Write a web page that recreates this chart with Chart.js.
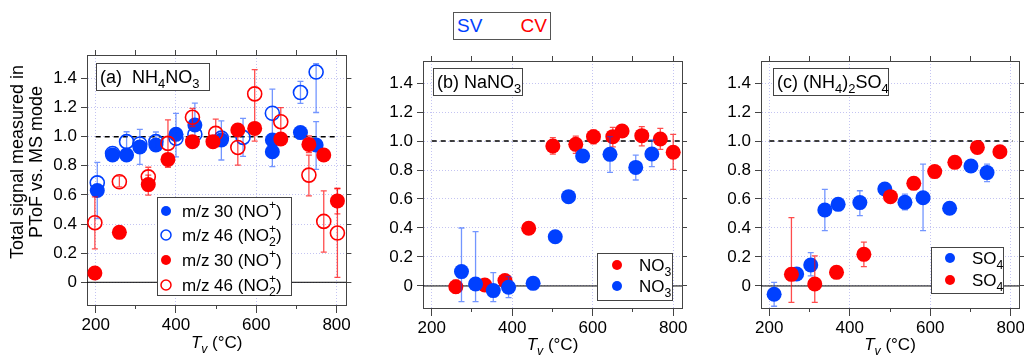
<!DOCTYPE html>
<html>
<head>
<meta charset="utf-8">
<script src="https://cdn.jsdelivr.net/npm/chart.js@4.4.0/dist/chart.umd.min.js"></script>
<style>
html, body { margin: 0; padding: 0; background: #fff; overflow: hidden; }
body { width: 1024px; height: 355px; position: relative; font-family: "Liberation Sans", Arial, sans-serif; }
canvas { position: absolute; top: 0; }
#svcv { position: absolute; left: 453px; top: 12px; width: 96px; height: 26px; border: 1px solid #555; font-size: 19px; line-height: 26px; }
#svcv .sv { position: absolute; left: 3px; color: #0040ff; }
#svcv .cv { position: absolute; right: 3px; color: #ff0000; }
</style>
</head>
<body>
<div id="svcv"><span class="sv">SV</span><span class="cv">CV</span></div>
<canvas id="pa" width="355" height="355" style="left:0px"></canvas>
<canvas id="pb" width="340" height="355" style="left:355px"></canvas>
<canvas id="pc" width="340" height="355" style="left:695px"></canvas>
<script>
// axis ticks
const xTicks = [200, 300, 400, 500, 600, 700, 800];
const xTickLabels = ['200', '', '400', '', '600', '', '800'];
const yTicks = [0, 0.2, 0.4, 0.6, 0.8, 1.0, 1.2, 1.4];
const yTickLabels = ['0', '0.2', '0.4', '0.6', '0.8', '1.0', '1.2', '1.4'];

// (a) NH4NO3 - SV m/z 30
const aSv30T  = [204, 242, 277, 310, 350, 400, 447, 513, 640, 640, 710, 749];
const aSv30V  = [0.63, 0.874, 0.874, 0.93, 0.943, 1.016, 1.08, 0.977, 0.977, 0.897, 1.028, 0.943];
const aSv30Lo = [0.437, null, null, 0.81, null, null, 0.93, 0.84, null, 0.794, null, 0.775];
const aSv30Hi = [0.823, null, null, 1.05, null, null, 1.23, 1.108, null, 1.0, null, 1.103];
// (a) SV m/z 46
const aSv46T  = [204, 242, 277, 310, 350, 400, 447, 513, 567, 640, 710, 749];
const aSv46V  = [0.683, 0.885, 0.966, 0.95, 0.966, 0.989, 1.016, 0.99, 0.995, 1.161, 1.303, 1.444];
const aSv46Lo = [null, null, 0.9, null, 0.9, 0.862, null, null, 0.865, 0.996, 1.229, 1.166];
const aSv46Hi = [null, null, 1.034, null, 1.032, 1.16, null, null, 1.126, 1.326, 1.38, 1.501];
// (a) CV m/z 30
const aCv30T  = [198, 259, 331, 380, 441, 492, 554, 596, 661, 731, 768, 802];
const aCv30V  = [0.064, 0.343, 0.671, 0.844, 0.966, 0.966, 1.046, 1.057, 0.984, 0.947, 0.874, 0.559];
const aCv30Lo = [null, null, 0.598, null, null, null, null, null, null, 0.89, null, 0.47];
const aCv30Hi = [null, null, 0.736, null, null, null, null, null, null, 1.005, null, 0.644];
// (a) CV m/z 46
const aCv46T  = [198, 259, 331, 380, 441, 499, 554, 596, 661, 731, 768, 802];
const aCv46V  = [0.409, 0.69, 0.724, 0.954, 1.133, 1.023, 0.926, 1.294, 1.103, 0.736, 0.418, 0.338];
const aCv46Lo = [0.23, 0.655, 0.66, 0.79, 1.07, 0.93, 0.805, 0.97, 1.0, 0.593, 0.207, 0.034];
const aCv46Hi = [0.586, 0.729, 0.79, 1.115, 1.195, 1.12, 1.046, 1.46, 1.2, 0.874, 0.628, 0.644];

// (b) NaNO3
const bCvT  = [260, 332, 382, 441, 501, 558, 602, 650, 673, 722, 768, 800];
const bCvV  = [-0.005, 0.007, 0.037, 0.398, 0.966, 0.977, 1.03, 1.03, 1.069, 1.037, 1.014, 0.922];
const bCvLo = [-0.05, null, 0.0, null, 0.91, 0.915, 0.98, 0.96, null, 0.966, 0.943, 0.805];
const bCvHi = [0.04, null, 0.07, null, 1.023, 1.034, 1.076, 1.094, null, 1.099, 1.087, 1.046];
const bSvT  = [274, 309, 353, 391, 452, 507, 540, 575, 643, 707, 747];
const bSvV  = [0.099, 0.014, -0.032, -0.009, 0.018, 0.34, 0.616, 0.897, 0.908, 0.818, 0.91];
const bSvLo = [-0.108, -0.108, -0.108, -0.08, null, null, null, null, 0.784, 0.731, 0.823];
const bSvHi = [0.40, 0.375, 0.092, 0.064, null, null, null, null, 1.03, 0.903, 1.007];

// (c) (NH4)2SO4
const cSvT  = [212, 268, 303, 338, 371, 425, 487, 537, 582, 648, 701, 741];
const cSvV  = [-0.057, 0.083, 0.145, 0.524, 0.563, 0.575, 0.669, 0.577, 0.609, 0.536, 0.828, 0.782];
const cSvLo = [-0.14, null, 0.07, 0.382, null, 0.485, null, 0.525, 0.382, null, null, 0.72];
const cSvHi = [0.025, null, 0.23, 0.667, null, 0.657, null, 0.634, 0.841, null, null, 0.84];
const cCvT  = [255, 313, 367, 435, 501, 559, 611, 661, 717, 773];
const cCvV  = [0.08, 0.014, 0.094, 0.218, 0.616, 0.708, 0.789, 0.853, 0.956, 0.926];
const cCvLo = [-0.113, -0.113, null, 0.133, null, null, null, null, null, null];
const cCvHi = [0.471, 0.207, null, 0.303, null, null, null, null, null, null];

const FONT = '"Liberation Sans", Arial, sans-serif';
const BLUE = '#0040ff', RED = '#ff0000';
const BLUE_ERR = 'rgba(0,64,255,0.55)', RED_ERR = 'rgba(255,0,0,0.7)';
const FRAME = '#444';
const GRID = '#c4c4f2';

const pts = (T, V, lo, hi) => T.map((t, i) => ({ x: t, y: V[i], lo: lo[i], hi: hi[i] }));

// text with sub/superscripts and italics, drawn on the canvas
function drawRich(ctx, segs, x, y, size, align) {
  const parts = segs.map(([t, k = '']) => {
    const small = k.includes('sub') || k.includes('sup') || k === 'stack';
    const fs = small ? size * 0.72 : size;
    const font = (k.includes('it') ? 'italic ' : '') + fs + 'px ' + FONT;
    ctx.font = font;
    const dy = (k.includes('sub') || k === 'stack') ? size * 0.3 : k.includes('sup') ? -size * 0.45 : 0;
    return { t, k, font, w: ctx.measureText(t).width, dy };
  });
  let total = 0, pending = 0;
  parts.forEach(p => {
    if (p.k === 'stack') pending = p.w;
    else { total += Math.max(p.w, pending); pending = 0; }
  });
  let cx = align === 'center' ? x - total / 2 : x;
  pending = 0;
  ctx.textAlign = 'left';
  ctx.textBaseline = 'alphabetic';
  parts.forEach(p => {
    ctx.font = p.font;
    ctx.fillText(p.t, cx, y + p.dy);
    if (p.k === 'stack') pending = p.w;
    else { cx += Math.max(p.w, pending); pending = 0; }
  });
}

const errorBars = {
  id: 'errorBars',
  beforeDatasetDraw(chart, args) {
    const ds = chart.data.datasets[args.index];
    if (!ds.errColor) return;
    const { ctx, scales: { x, y } } = chart;
    ctx.save();
    ctx.strokeStyle = ds.errColor;
    ctx.lineWidth = 1.3;
    ds.data.forEach(p => {
      if (p.lo == null) return;
      const px = x.getPixelForValue(p.x);
      const y1 = y.getPixelForValue(p.lo), y2 = y.getPixelForValue(p.hi);
      ctx.beginPath();
      ctx.moveTo(px, y1); ctx.lineTo(px, y2);
      ctx.moveTo(px - 3, y1); ctx.lineTo(px + 3, y1);
      ctx.moveTo(px - 3, y2); ctx.lineTo(px + 3, y2);
      ctx.stroke();
    });
    ctx.restore();
  }
};

const labels = {
  id: 'labels',
  afterDraw(chart, args, o) {
    const ctx = chart.ctx;
    ctx.save();
    ctx.fillStyle = '#000';
    // panel tag box
    const b = o.tagBox;
    ctx.fillStyle = '#fff';
    ctx.fillRect(b[0], b[1], b[2] - b[0], b[3] - b[1]);
    ctx.strokeStyle = FRAME; ctx.lineWidth = 1;
    ctx.strokeRect(b[0] + 0.5, b[1] + 0.5, b[2] - b[0], b[3] - b[1]);
    ctx.fillStyle = '#000';
    drawRich(ctx, o.tag, b[0] + 4, b[3] - 7, 18, 'left');
    // legend box
    const l = o.legendBox;
    ctx.fillStyle = '#fff';
    ctx.fillRect(l[0], l[1], l[2] - l[0], l[3] - l[1]);
    ctx.strokeRect(l[0] + 0.5, l[1] + 0.5, l[2] - l[0], l[3] - l[1]);
    o.rows.forEach(r => {
      const ds = chart.data.datasets[r.ds];
      ctx.beginPath();
      ctx.arc(o.markerX, r.y, 5, 0, Math.PI * 2);
      if (ds.open) { ctx.strokeStyle = ds.borderColor; ctx.lineWidth = 1.5; ctx.stroke(); }
      else { ctx.fillStyle = ds.backgroundColor; ctx.fill(); }
      ctx.fillStyle = '#000';
      drawRich(ctx, ds.rich, o.textX, r.y + 6, 17, 'left');
    });
    // x title
    const ca = chart.chartArea;
    drawRich(ctx, [['T', 'it'], ['v', 'itsub'], [' (°C)']], (ca.left + ca.right) / 2, o.xTitleY, 17, 'center');
    // y title
    if (o.yTitle) {
      ctx.translate(0, 0);
      ctx.rotate(-Math.PI / 2);
      ctx.font = '18px ' + FONT;
      ctx.textAlign = 'center';
      ctx.textBaseline = 'middle';
      ctx.fillText(o.yTitle[0], -162, 18);
      ctx.fillText(o.yTitle[1], -162, 37);
    }
    ctx.restore();
  }
};

function refLines(xMin, xMax, dashEnd) {
  return [
    { data: [{ x: xMin, y: 0 }, { x: xMax, y: 0 }], showLine: true, borderColor: '#000', borderWidth: 1, pointRadius: 0, order: 10 },
    { data: [{ x: 200, y: 1 }, { x: dashEnd, y: 1 }], showLine: true, borderColor: '#000', borderWidth: 1.5, borderDash: [5, 4], pointRadius: 0, order: 9 }
  ];
}

function series(label, rich, data, color, errColor, open, order) {
  return {
    label, rich, data, open, errColor, order,
    backgroundColor: open ? 'rgba(0,0,0,0)' : color,
    borderColor: color,
    borderWidth: open ? 1.6 : 0,
    pointRadius: open ? 7 : 7.5,
    pointHoverRadius: open ? 7 : 7.5
  };
}

function scales(p) {
  const font = { family: FONT, size: 17 };
  const major = c => c.tick && c.tick.value % 200 === 0;
  return {
    x: {
      type: 'linear', position: 'bottom', weight: 1, min: p.xMin, max: p.xMax,
      afterBuildTicks: s => { s.ticks = xTicks.map(v => ({ value: v })); },
      afterFit: s => { s.height = p.bottom; },
      ticks: { font, color: '#000', padding: 2, maxRotation: 0, autoSkip: false, callback: (v, i) => xTickLabels[i] },
      grid: { color: c => major(c) ? GRID : 'rgba(0,0,0,0)', tickLength: 8, tickColor: c => major(c) ? FRAME : 'rgba(0,0,0,0)' },
      border: { color: FRAME, width: 1, dash: [1, 2] }
    },
    xMinor: {
      type: 'linear', axis: 'x', position: 'bottom', weight: 0, min: p.xMin, max: p.xMax,
      afterBuildTicks: s => { s.ticks = xTicks.map(v => ({ value: v })); },
      afterFit: s => { s.height = 0; },
      ticks: { display: false },
      grid: { drawOnChartArea: false, tickLength: 4, tickColor: FRAME },
      border: { display: false }
    },
    x2: {
      type: 'linear', axis: 'x', position: 'top', min: p.xMin, max: p.xMax,
      afterBuildTicks: s => { s.ticks = xTicks.map(v => ({ value: v })); },
      afterFit: s => { s.height = p.top; },
      ticks: { display: false },
      grid: { drawOnChartArea: false, tickLength: 5, tickColor: FRAME },
      border: { color: FRAME, width: 1 }
    },
    y: {
      type: 'linear', position: 'left', min: p.yMin, max: p.yMax,
      afterBuildTicks: s => { s.ticks = yTicks.map(v => ({ value: v })); },
      afterFit: s => { s.width = p.left; },
      ticks: { font, color: '#000', padding: 4, callback: (v, i) => yTickLabels[i] },
      grid: { color: GRID, tickLength: 6, tickColor: FRAME },
      border: { color: FRAME, width: 1, dash: [1, 2] }
    },
    y2: {
      type: 'linear', axis: 'y', position: 'right', min: p.yMin, max: p.yMax,
      afterBuildTicks: s => { s.ticks = yTicks.map(v => ({ value: v })); },
      afterFit: s => { s.width = p.right; },
      ticks: { display: false },
      grid: { drawOnChartArea: false, tickLength: 5, tickColor: FRAME },
      border: { color: FRAME, width: 1 }
    }
  };
}

function panel(id, p, datasets, lab) {
  return new Chart(document.getElementById(id), {
    type: 'scatter',
    data: { datasets },
    options: {
      responsive: false,
      animation: false,
      layout: { padding: 0 },
      scales: scales(p),
      plugins: { legend: { display: false }, tooltip: { enabled: false }, labels: lab }
    },
    plugins: [errorBars, labels]
  });
}

const pa = { left: 87, right: 8, top: 55, bottom: 50, xMin: 178.4, xMax: 824.4, yMin: -0.156, yMax: 1.561 };
panel('pa', pa, [
  ...refLines(pa.xMin, pa.xMax, 805),
  series('m/z 30 (NO+)', [['m/z 30 (NO'], ['+', 'sup'], [')']], pts(aSv30T, aSv30V, aSv30Lo, aSv30Hi), BLUE, BLUE_ERR, false, 4),
  series('m/z 46 (NO2+)', [['m/z 46 (NO'], ['2', 'stack'], ['+', 'sup'], [')']], pts(aSv46T, aSv46V, aSv46Lo, aSv46Hi), BLUE, BLUE_ERR, true, 3),
  series('m/z 30 (NO+)', [['m/z 30 (NO'], ['+', 'sup'], [')']], pts(aCv30T, aCv30V, aCv30Lo, aCv30Hi), RED, RED_ERR, false, 2),
  series('m/z 46 (NO2+)', [['m/z 46 (NO'], ['2', 'stack'], ['+', 'sup'], [')']], pts(aCv46T, aCv46V, aCv46Lo, aCv46Hi), RED, RED_ERR, true, 1)
], {
  tagBox: [96, 63, 209, 90], tag: [['(a)  NH'], ['4', 'sub'], ['NO'], ['3', 'sub']],
  legendBox: [157, 197, 291, 295], markerX: 166, textX: 182,
  rows: [{ ds: 2, y: 211 }, { ds: 3, y: 235 }, { ds: 4, y: 260 }, { ds: 5, y: 285 }],
  xTitleY: 348,
  yTitle: ['Total signal measured in', 'PToF vs. MS mode']
});

const pb = { left: 68, right: 13, top: 61, bottom: 47, xMin: 178.4, xMax: 821.9, yMin: -0.152, yMax: 1.552 };
panel('pb', pb, [
  ...refLines(pb.xMin, pb.xMax, pb.xMax),
  series('NO3', [['NO'], ['3', 'sub']], pts(bCvT, bCvV, bCvLo, bCvHi), RED, RED_ERR, false, 2),
  series('NO3', [['NO'], ['3', 'sub']], pts(bSvT, bSvV, bSvLo, bSvHi), BLUE, BLUE_ERR, false, 1)
], {
  tagBox: [78, 68, 167, 95], tag: [['(b) NaNO'], ['3', 'sub']],
  legendBox: [242, 253, 317, 300], markerX: 262, textX: 284,
  rows: [{ ds: 2, y: 265 }, { ds: 3, y: 286 }],
  xTitleY: 350
});

const pc = { left: 66, right: 16, top: 61, bottom: 47, xMin: 179.4, xMax: 820.4, yMin: -0.152, yMax: 1.552 };
panel('pc', pc, [
  ...refLines(pc.xMin, pc.xMax, 805),
  series('SO4', [['SO'], ['4', 'sub']], pts(cSvT, cSvV, cSvLo, cSvHi), BLUE, BLUE_ERR, false, 2),
  series('SO4', [['SO'], ['4', 'sub']], pts(cCvT, cCvV, cCvLo, cCvHi), RED, RED_ERR, false, 1)
], {
  tagBox: [78, 68, 193, 95], tag: [['(c) (NH'], ['4', 'sub'], [')'], ['2', 'sub'], ['SO'], ['4', 'sub']],
  legendBox: [236, 247, 308, 293], markerX: 255, textX: 277,
  rows: [{ ds: 2, y: 258 }, { ds: 3, y: 280 }],
  xTitleY: 350
});
</script>
</body>
</html>
